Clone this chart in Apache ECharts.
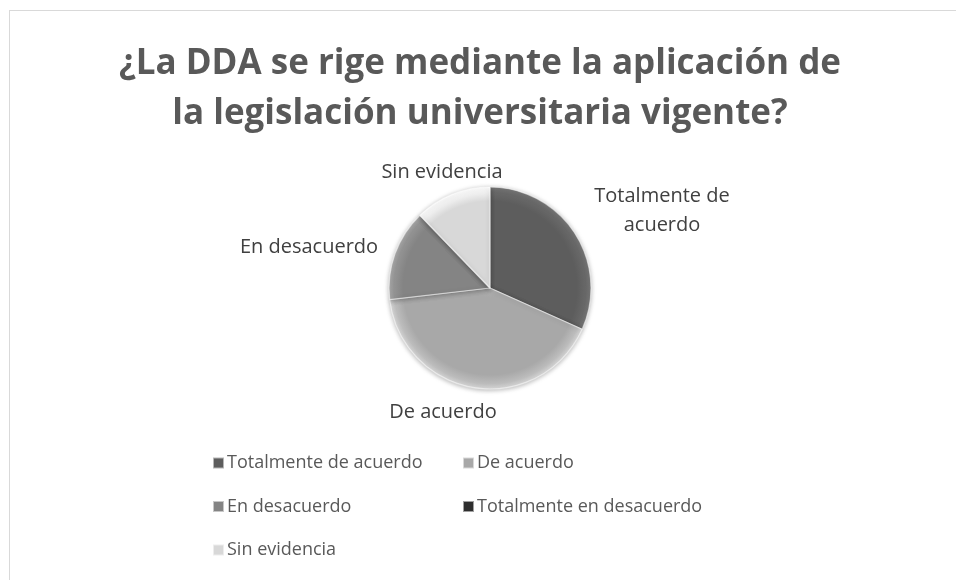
<!DOCTYPE html>
<html>
<head>
<meta charset="utf-8">
<style>
  html, body { margin: 0; padding: 0; background: #fff; }
  #frame { position: absolute; left: 9px; top: 10px; width: 980px; height: 600px; border: 1px solid #d9d9d9; }
  #chart { position: absolute; left: 0; top: 0; width: 956px; height: 580px; }
</style>
<script src="https://cdn.jsdelivr.net/npm/echarts@6/dist/echarts.min.js"></script>
</head>
<body>
<div id="frame"></div>
<div id="chart"></div>
<script>
  // respuestas por categoría
  var categorias = ['Totalmente de acuerdo', 'De acuerdo', 'En desacuerdo', 'Totalmente en desacuerdo', 'Sin evidencia'];
  var valores = [13, 17, 6, 0, 5];
  var colores = ['#5d5d5d', '#a8a8a8', '#848484', '#2e2e2e', '#d8d8d8'];
  var etiquetas = ['Totalmente de\nacuerdo', 'De acuerdo', 'En desacuerdo', '', 'Sin evidencia'];
  // desplazamiento de cada etiqueta respecto al centro del pastel (estilo Excel)
  var posEtiqueta = [[172, -77], [-47, 124], [-181, -41], [0, 0], [-48, -116]];

  var cx = 490, cy = 288, radio = 101;
  var font = '"Open Sans", "Liberation Sans", sans-serif';

  var datos = categorias.map(function (c, i) {
    var item = {
      name: c,
      value: valores[i],
      itemStyle: {
        color: {
          type: 'radial', x: cx, y: cy, r: radio, global: true,
          colorStops: [
            { offset: 0, color: echarts.color.lift(colores[i], -0.04) },
            { offset: 0.1, color: colores[i] },
            { offset: 0.86, color: colores[i] },
            { offset: 0.95, color: echarts.color.lift(colores[i], -0.12) },
            { offset: 1, color: echarts.color.lift(colores[i], -0.3) }
          ]
        }
      },
      label: { formatter: etiquetas[i] }
    };
    if (!valores[i]) item.label.show = false;
    return item;
  });

  function itemsLeyenda(lista) {
    return lista.map(function (n) {
      return { name: n, itemStyle: { color: colores[categorias.indexOf(n)] } };
    });
  }

  var leyendaBase = {
    orient: 'vertical',
    top: 448,
    itemGap: 23.5,
    itemWidth: 11,
    itemHeight: 11,
    icon: 'rect',
    textStyle: { fontFamily: font, fontSize: 18, lineHeight: 20, color: '#595959', padding: [0, 0, 0, -2] }
  };

  var myChart = echarts.init(document.getElementById('chart'));
  var option = {
    backgroundColor: 'transparent',
    animation: false,
    title: {
      text: '¿La DDA se rige mediante la aplicación de\nla legislación universitaria vigente?',
      left: 475,
      textAlign: 'center',
      top: 34,
      textStyle: {
        fontFamily: font,
        fontSize: 35,
        fontWeight: 'bold',
        color: '#595959',
        lineHeight: 50
      }
    },
    legend: [
      Object.assign({ left: 207, data: itemsLeyenda([categorias[0], categorias[2], categorias[4]]) }, leyendaBase),
      Object.assign({ left: 457, data: itemsLeyenda([categorias[1], categorias[3]]) }, leyendaBase)
    ],
    series: [{
      type: 'pie',
      center: [cx, cy],
      radius: radio,
      startAngle: 90,
      clockwise: true,
      avoidLabelOverlap: false,
      itemStyle: {
        borderColor: 'rgba(255,255,255,0.55)',
        borderWidth: 1.2,
        shadowBlur: 5,
        shadowColor: 'rgba(0,0,0,0.3)',
        shadowOffsetY: 1
      },
      label: {
        show: true,
        position: 'outside',
        fontFamily: font,
        fontSize: 20,
        color: '#404040',
        lineHeight: 29
      },
      labelLine: { show: false },
      labelLayout: function (p) {
        var o = posEtiqueta[p.dataIndex];
        return { x: cx + o[0], y: cy + o[1], align: 'center', verticalAlign: 'middle' };
      },
      data: datos
    }]
  };
  myChart.setOption(option);
</script>
</body>
</html>
